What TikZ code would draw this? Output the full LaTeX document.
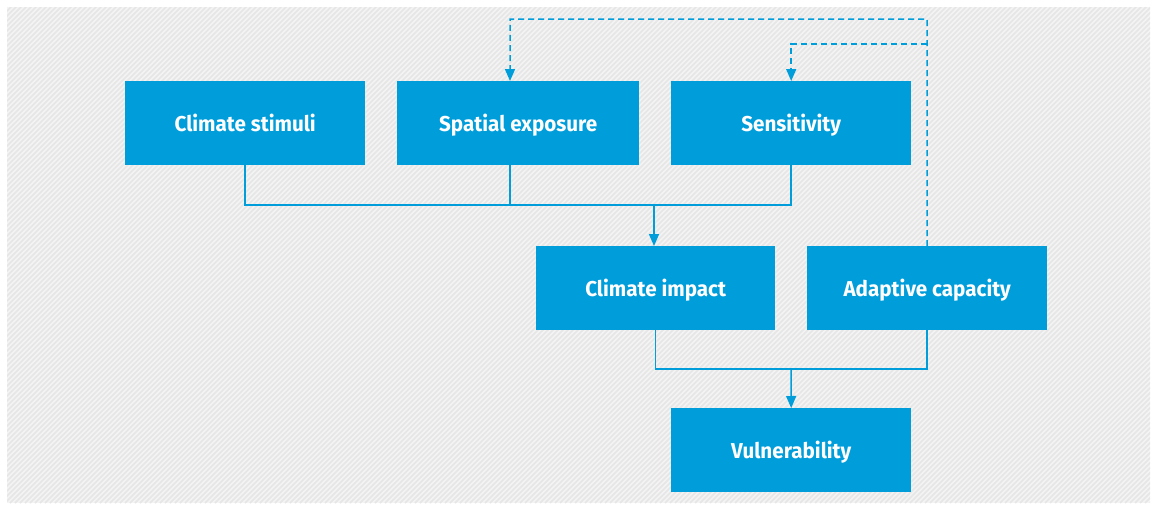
\documentclass[tikz,border=0pt]{standalone}
\usepackage{fontspec}
\newfontfamily\boxfont{Fira Sans}[FakeStretch=0.96]
\usetikzlibrary{arrows.meta}
\definecolor{boxblue}{RGB}{0,157,219}
\definecolor{bggray}{RGB}{244,244,244}
\definecolor{hatch}{RGB}{230,230,230}
\tikzset{
  stepbox/.style={fill=boxblue, draw=none, minimum width=240pt, minimum height=84pt, inner sep=0pt,
    text height=17pt, text depth=0pt,
    text=white, font=\boxfont\bfseries\fontsize{21.5}{24}\selectfont, anchor=north west},
  link/.style={draw=boxblue, line width=1.5pt},
  arr/.style={link, -{Triangle[length=12pt,width=10pt]}},
  dlink/.style={link, dash pattern=on 6pt off 4pt},
  darr/.style={dlink, -{Triangle[length=12pt,width=10pt]}},
}
\begin{document}
\begin{tikzpicture}[x=1pt,y=-1pt]
\useasboundingbox (0,0) rectangle (1153,506);
\fill[white] (0,0) rectangle (1153,506);
\begin{scope}
\clip (7,7) rectangle (1150,503);
\fill[bggray] (7,7) rectangle (1150,503);
\foreach \i in {0,5,...,1650}{
  \draw[hatch, line width=1.6pt] (\i-500,503) -- (\i,3);
}
\end{scope}

\node[stepbox] (stim) at (125,81) {Climate stimuli};
\node[stepbox, minimum width=242pt] (spat) at (397,81) {Spatial exposure};
\node[stepbox] (sens) at (671,81) {Sensitivity};
\node[stepbox, minimum width=239pt] (imp) at (536,246) {Climate impact};
\node[stepbox] (adap) at (807,246) {Adaptive capacity};
\node[stepbox] (vul) at (671,408) {Vulnerability};

\coordinate (j1) at (654,205);
\coordinate (j2) at (791,369);
\coordinate (d1) at (927,19);
\coordinate (d2) at (927,44);
\coordinate (sx) at (510,165);
\coordinate (sn) at (510,81);

\draw[link] (stim.south) |- (sens.south |- j1) -- (sens.south);
\draw[link] (sx) -- (sx |- j1);
\draw[arr] (j1) -- (j1 |- imp.north);
\draw[link] (imp.south) |- (adap.south |- j2) -- (adap.south);
\draw[arr] (j2) -- (vul.north);
\draw[darr] (adap.north) -- (d1) -| (sn);
\draw[darr] (d2) -| (sens.north);
\end{tikzpicture}
\end{document}
